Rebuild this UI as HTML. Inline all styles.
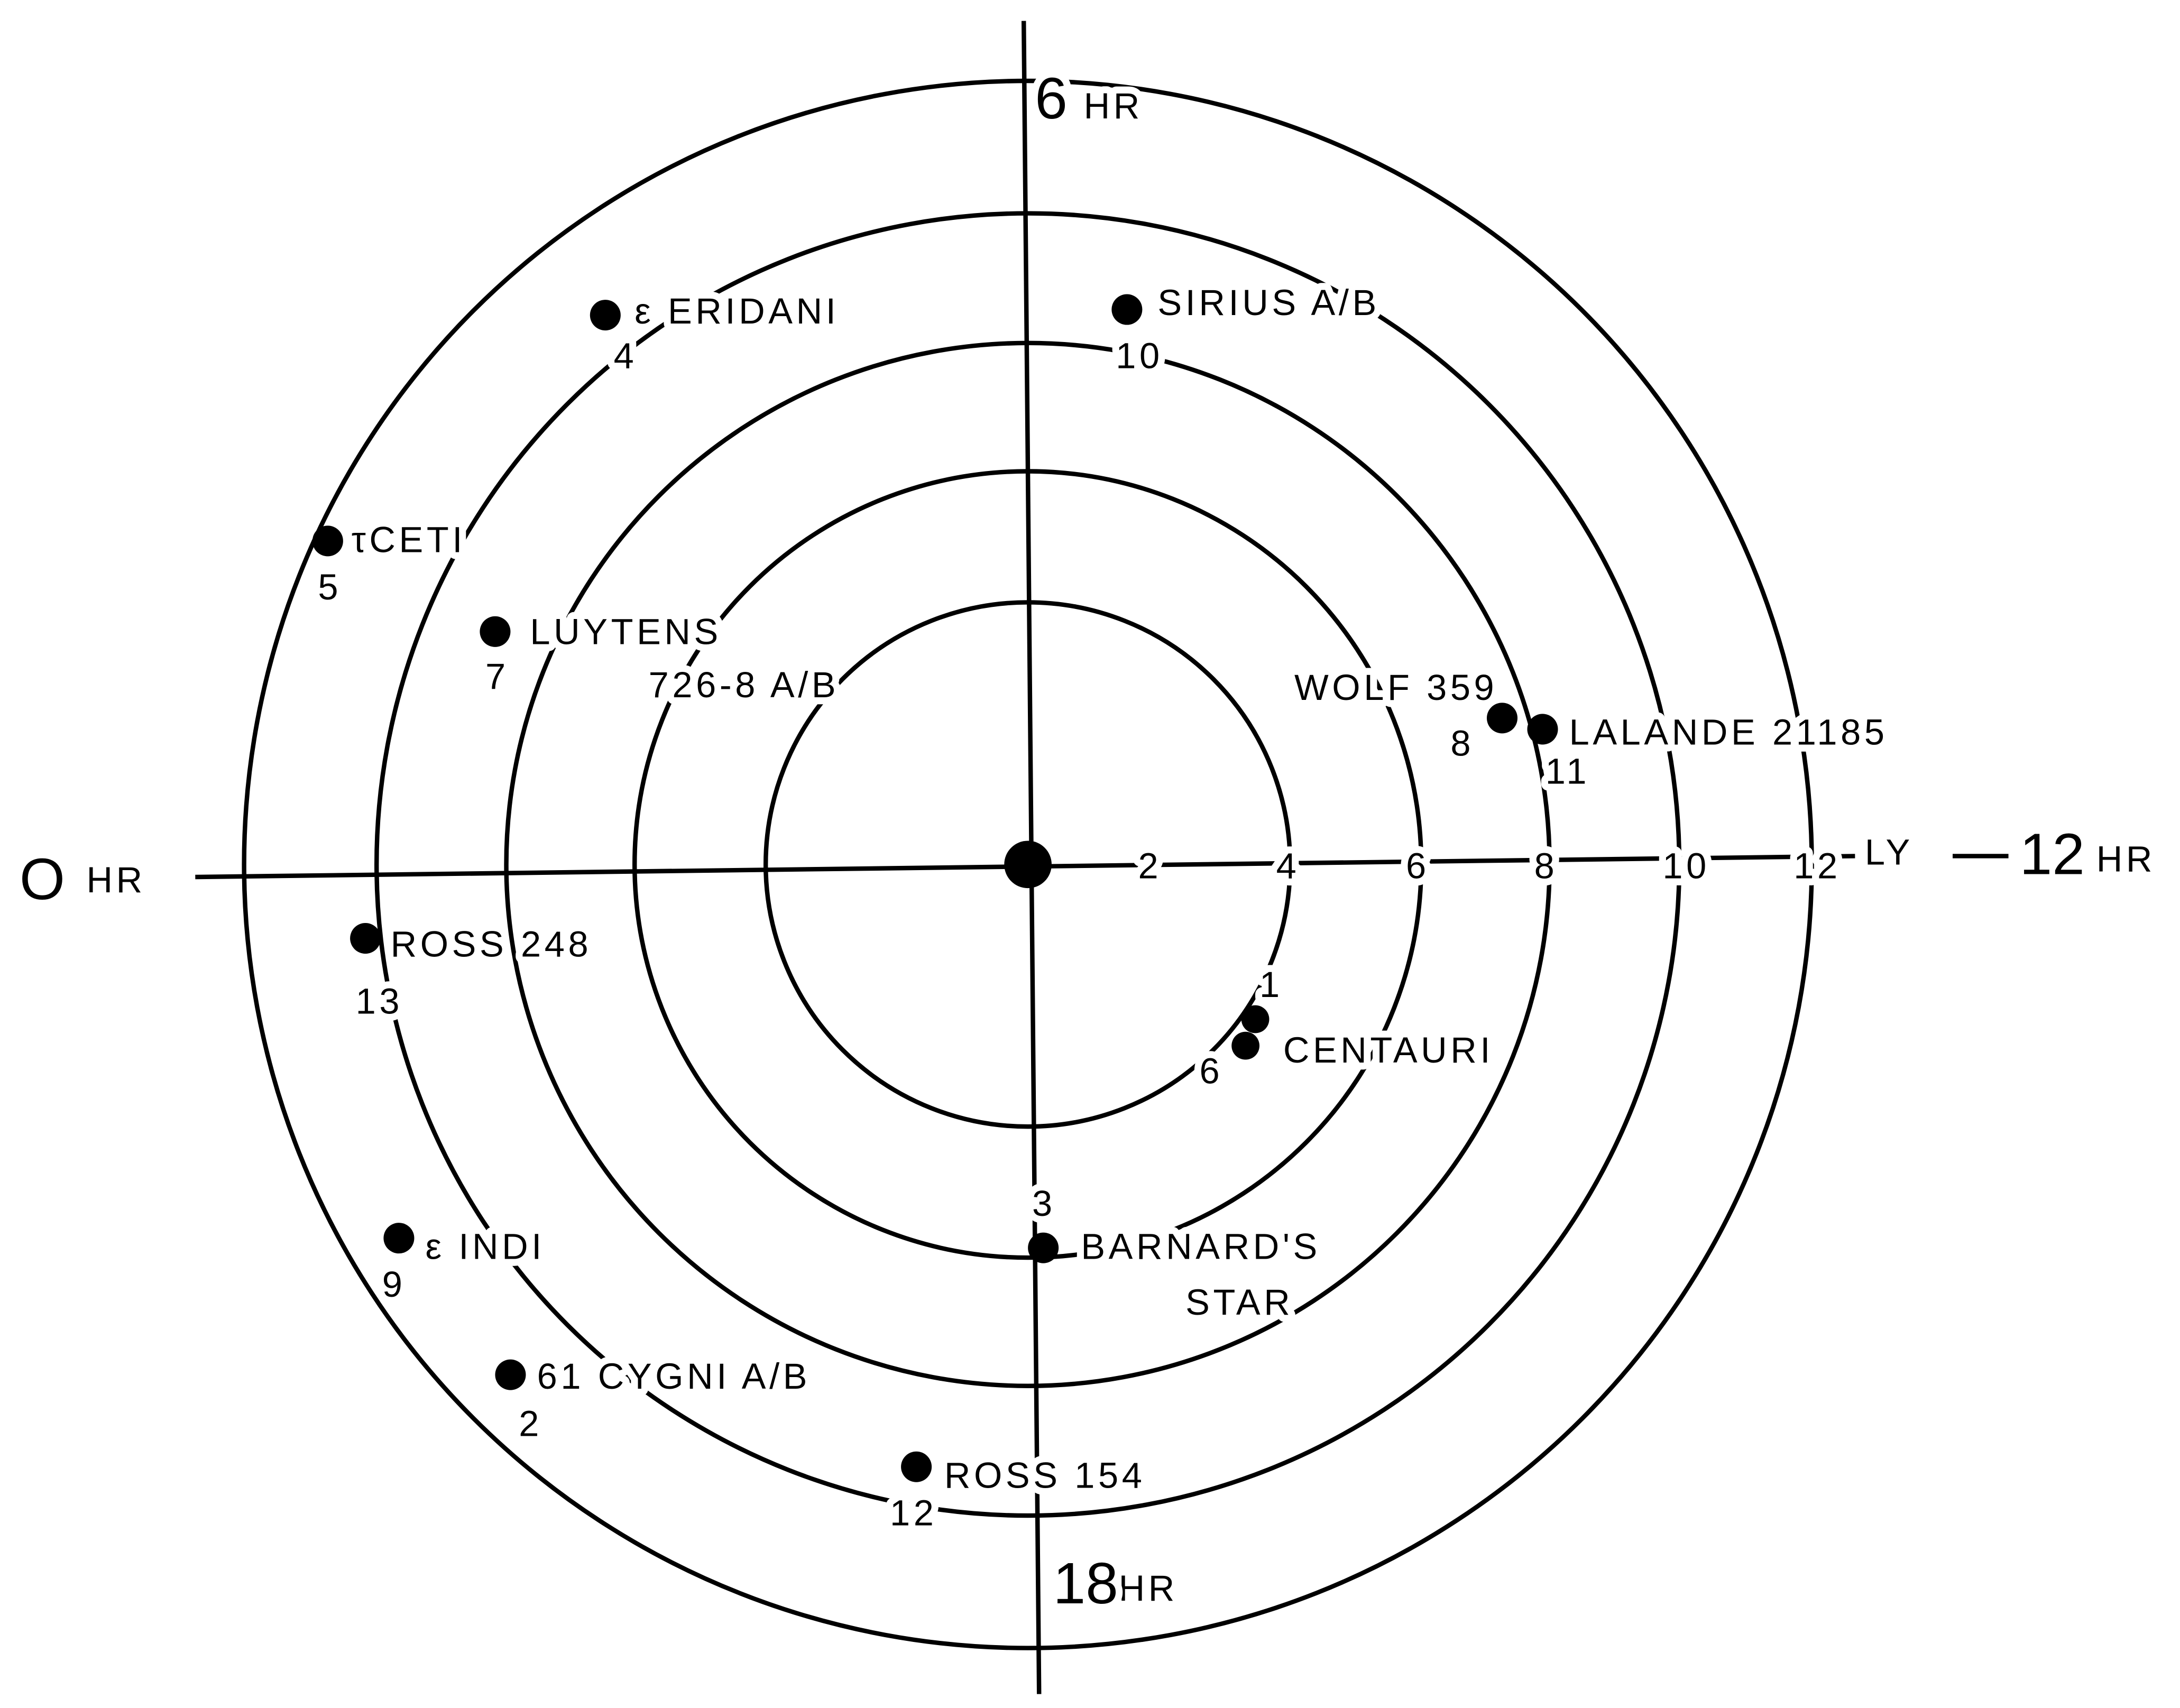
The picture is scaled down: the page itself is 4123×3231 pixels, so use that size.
<!DOCTYPE html>
<html><head><meta charset="utf-8"><style>
html,body{margin:0;padding:0;background:#fff;}
svg{display:block;}
text{font-family:"Liberation Sans",sans-serif;fill:#000;stroke:#fff;stroke-width:10;paint-order:stroke;stroke-linejoin:round;}
.l{letter-spacing:2.5px;}
</style></head><body>
<svg width="4123" height="3231" viewBox="0 0 1563 1225" preserveAspectRatio="none" xmlns="http://www.w3.org/2000/svg">
<g fill="none" stroke="#000" stroke-width="3.2">
<circle cx="737" cy="620" r="188"/>
<circle cx="737" cy="620" r="282"/>
<circle cx="737" cy="620" r="374"/>
<circle cx="737" cy="620" r="467"/>
<circle cx="737" cy="620" r="562"/>
<line x1="140" y1="629" x2="1330" y2="614"/>
<line x1="1400" y1="614" x2="1440" y2="614"/>
<line x1="734" y1="15" x2="745" y2="1215"/>
</g>
<g fill="#000">
<circle cx="737" cy="620" r="17"/>
<circle cx="434" cy="226" r="11"/>
<circle cx="808" cy="222" r="11"/>
<circle cx="235" cy="388" r="11"/>
<circle cx="355" cy="453" r="11"/>
<circle cx="1077" cy="515" r="11"/>
<circle cx="1106" cy="523" r="11"/>
<circle cx="262" cy="673" r="11"/>
<circle cx="900" cy="731" r="10"/>
<circle cx="893" cy="750" r="10"/>
<circle cx="748" cy="895" r="11"/>
<circle cx="286" cy="888" r="11"/>
<circle cx="366" cy="986" r="11"/>
<circle cx="657" cy="1052" r="11"/>
</g>
<g font-size="26" class="l">
<text x="455" y="232">ε ERIDANI</text>
<text x="440" y="264">4</text>
<text x="830" y="226">SIRIUS A/B</text>
<text x="800" y="264">10</text>
<text x="252" y="396">τCETI</text>
<text x="228" y="430">5</text>
<text x="380" y="462">LUYTENS</text>
<text x="465" y="500">726-8 A/B</text>
<text x="348" y="494">7</text>
<text x="928" y="502">WOLF 359</text>
<text x="1040" y="542">8</text>
<text x="1125" y="534">LALANDE 21185</text>
<text x="1108" y="562">11</text>
<text x="280" y="686">ROSS 248</text>
<text x="255" y="727">13</text>
<text x="903" y="715">1</text>
<text x="860" y="777">6</text>
<text x="920" y="762">CENTAURI</text>
<text x="740" y="872">3</text>
<text x="775" y="903">BARNARD'S</text>
<text x="850" y="943">STAR</text>
<text x="305" y="903">ε INDI</text>
<text x="274" y="930">9</text>
<text x="385" y="996">61 CYGNI A/B</text>
<text x="372" y="1030">2</text>
<text x="677" y="1067">ROSS 154</text>
<text x="638" y="1094">12</text>
<text x="816" y="630">2</text>
<text x="915" y="630">4</text>
<text x="1008" y="630">6</text>
<text x="1100" y="630">8</text>
<text x="1192" y="630">10</text>
<text x="1286" y="630">12</text>
<text x="1337" y="620">LY</text>
<text x="62" y="640">HR</text>
<text x="1503" y="625">HR</text>
<text x="777" y="85">HR</text>
<text x="802" y="1148">HR</text>
</g>
<g font-size="42">
<text x="14" y="645">O</text>
<text x="1448" y="627">12</text>
<text x="742" y="85">6</text>
<text x="755" y="1150">18</text>
</g>
</svg>
</body></html>
